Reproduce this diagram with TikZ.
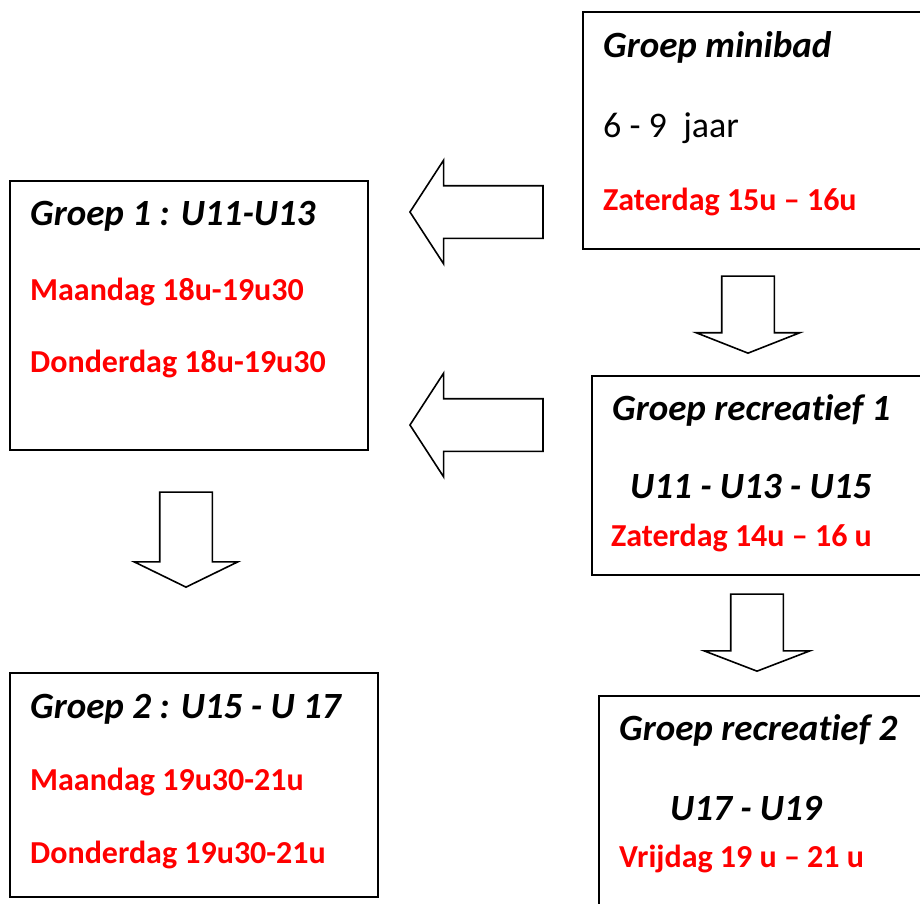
\documentclass[tikz,border=0pt]{standalone}
\usepackage{fontspec}
\setmainfont{Carlito}[Ligatures={TeX,NoCommon}]
\usetikzlibrary{shapes.arrows, positioning}
\definecolor{timered}{RGB}{255,0,0}
\tikzset{
groupbox/.style={rectangle, draw=black, line width=1.6pt, fill=white, inner sep=0pt}, % the frame round a group
blockarrow/.style={single arrow, draw=black, line width=1.6pt, fill=white, single arrow head extend=25.5pt, anchor=tip}, % the big hollow arrows
leftarrow/.style={blockarrow, shape border rotate=180, inner xsep=0pt, inner ysep=25.5pt},
downarrow/.style={blockarrow, shape border rotate=270, inner xsep=25.5pt, inner ysep=0pt},
title/.style={anchor=base west, inner sep=0pt, font=\fontsize{37}{44}\selectfont\bfseries\itshape},
info/.style={anchor=base west, inner sep=0pt, font=\fontsize{36}{43}\selectfont},
hours/.style={anchor=base west, inner sep=0pt, text=timered, font=\fontsize{32}{38}\selectfont\bfseries},
}

\begin{document}
\begin{tikzpicture}[x=1pt, y=-1pt]
      \clip (0,0) rectangle (920,903);

      % the groups
      \node[groupbox, anchor=north west, minimum width=350pt, minimum height=237pt] (minibad) at (582,11) {};
      \node[groupbox, anchor=north west, minimum width=358pt, minimum height=269pt] (groep1) at (9,180) {};
      \node[groupbox, anchor=north west, minimum width=340pt, minimum height=199pt] (recr1) at (591,375) {};
      \node[groupbox, anchor=north west, minimum width=340pt, minimum height=230pt] (recr2) at (598,695) {};
      \node[groupbox, anchor=north west, minimum width=368pt, minimum height=224pt] (groep2) at (9,672) {};

      % their texts
      \node[title] (minibadT) at (603,57) {Groep minibad};
      \node[info] (minibadA) at (603,137) {6 - 9\ \ jaar};
      \node[hours] (minibadH) at (603,210) {Zaterdag 15u -- 16u};

      \node[title] (groep1T) at (30,225) {Groep 1 : U11-U13};
      \node[hours] (groep1H) at (30,300) {Maandag 18u-19u30};
      \node[hours] (groep1D) at (30,372) {Donderdag 18u-19u30};

      \node[title] (recr1T) at (612,420) {Groep recreatief 1};
      \node[title] (recr1A) at (630,498) {U11 - U13 - U15};
      \node[hours] (recr1H) at (611,546) {Zaterdag 14u -- 16 u};

      \node[title] (recr2T) at (619,740) {Groep recreatief 2};
      \node[title] (recr2A) at (670,820) {U17 - U19};
      \node[hours] (recr2H) at (619,867) {Vrijdag 19 u -- 21 u};

      \node[title] (groep2T) at (30,718) {Groep 2 : U15 - U 17};
      \node[hours] (groep2H) at (30,790) {Maandag 19u30-21u};
      \node[hours] (groep2D) at (30,863) {Donderdag 19u30-21u};

      % the arrows
      \node[leftarrow, minimum height=133pt, single arrow tip angle=114] (left1) at (409,212) {};
      \node[leftarrow, minimum height=133pt, single arrow tip angle=114] (left2) at (409,425) {};
      \node[downarrow, minimum height=77pt, single arrow tip angle=137] (down1) at (748,354) {};
      \node[downarrow, minimum height=77pt, single arrow head extend=26.5pt, single arrow tip angle=138] (down2) at (757,672) {};
      \node[downarrow, minimum height=95pt, single arrow tip angle=128] (down3) at (186,588) {};
\end{tikzpicture}
\end{document}
